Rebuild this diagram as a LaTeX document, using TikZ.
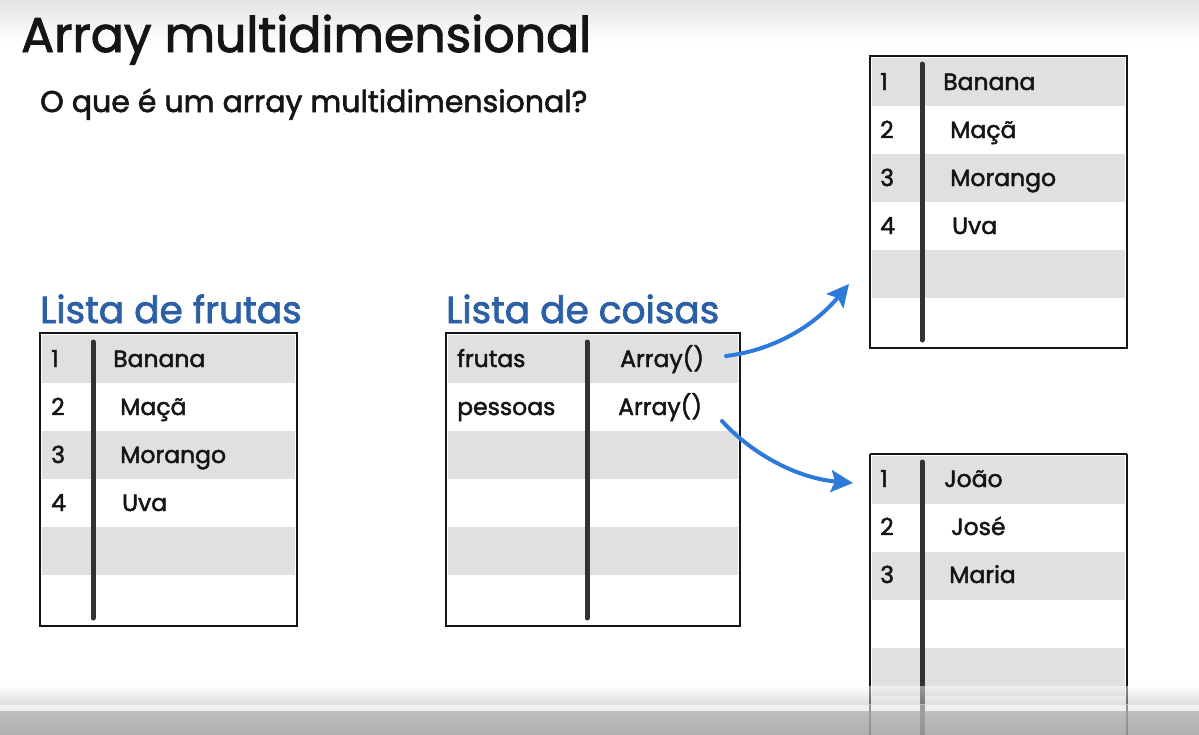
\documentclass[tikz,border=0pt]{standalone}
\usepackage{fontspec}
\setmainfont{Poppins}[RawFeature={embolden=2}]
\usetikzlibrary{arrows.meta}

\definecolor{rowgray}{HTML}{E0E0E0}
\definecolor{ink}{HTML}{151515}
\definecolor{labelblue}{HTML}{2B5FA6}
\definecolor{arrowblue}{HTML}{2E7AD9}
\definecolor{rulegray}{HTML}{333333}

\tikzset{
  cell/.style={anchor=base west, inner sep=0pt, text=ink, font=\fontsize{23.5}{27}\selectfont},
  heading/.style={anchor=base west, inner sep=0pt, text=labelblue, font=\fontsize{37.5}{42}\selectfont},
  frame/.style={draw=ink, line width=2.8pt},
  colrule/.style={draw=rulegray, line width=5pt, line cap=round},
  pointer/.style={draw=arrowblue, line width=4pt, line cap=round,
    -{Stealth[length=22pt, width=22pt, inset=4pt]}},
}

% striped list body: left, top, right, first row top, number of rows
\newcommand{\stripes}[5]{%
  \foreach \r in {1,...,#5}{%
    \pgfmathsetmacro{\ya}{#4+48*(\r-1)}%
    \pgfmathsetmacro{\yb}{\ya+48}%
    \pgfmathparse{mod(\r,2)==1 ? "rowgray" : "white"}%
    \fill[\pgfmathresult] (#1+2,\ya) rectangle (#3-2,\yb);
  }%
}

\begin{document}
\begin{tikzpicture}[x=1pt, y=-1pt]
\useasboundingbox (0,0) rectangle (1199,734);
\fill[white] (0,0) rectangle (1199,734);
\shade[top color=black!11, bottom color=white] (0,0) rectangle (1199,42);

% titles
\node[anchor=base west, inner sep=0pt, text=ink, font=\fontsize{49}{55}\selectfont] (title) at (21,52) {Array multidimensional};
\node[anchor=base west, inner sep=0pt, text=ink, font=\fontsize{30}{34}\selectfont] (question) at (40,112) {O que é um array multidimensional?};

% ---- Lista de frutas ----
\node[heading] (hfrutas) at (40,323) {Lista de frutas};
\stripes{40}{333}{297}{335}{6}
\draw[frame] (40,333) rectangle (297,626);
\draw[colrule] (93,342) -- (93,618);
\node[cell] (f1n) at (51,367) {1};
\node[cell] (f1v) at (113,367) {Banana};
\node[cell] (f2n) at (51,415) {2};
\node[cell] (f2v) at (120,415) {Maçã};
\node[cell] (f3n) at (51,463) {3};
\node[cell] (f3v) at (120,463) {Morango};
\node[cell] (f4n) at (51,511) {4};
\node[cell] (f4v) at (122,511) {Uva};

% ---- Lista de coisas ----
\node[heading] (hcoisas) at (446,323) {Lista de coisas};
\stripes{446}{333}{740}{335}{6}
\draw[frame] (446,333) rectangle (740,626);
\draw[colrule] (587,342) -- (587,618);
\node[cell] (c1k) at (457,367) {frutas};
\node[cell] (c1v) at (620,367) {Array()};
\node[cell] (c2k) at (457,415) {pessoas};
\node[cell] (c2v) at (618,415) {Array()};

% ---- fruit array ----
\stripes{870}{56}{1127}{58}{6}
\draw[frame] (870,56) rectangle (1127,348);
\draw[colrule] (922,64) -- (922,340);
\node[cell] (t1n) at (880,90) {1};
\node[cell] (t1v) at (943,90) {Banana};
\node[cell] (t2n) at (880,138) {2};
\node[cell] (t2v) at (950,138) {Maçã};
\node[cell] (t3n) at (880,186) {3};
\node[cell] (t3v) at (950,186) {Morango};
\node[cell] (t4n) at (880,234) {4};
\node[cell] (t4v) at (952,234) {Uva};

% ---- people array ----
\stripes{870}{454}{1127}{456}{6}
\draw[frame] (870,454) -- (1127,454);
\draw[frame] (870,454) -- (870,750);
\draw[frame] (1127,454) -- (1127,750);
\draw[colrule] (922,462) -- (922,750);
\node[cell] (p1n) at (880,487) {1};
\node[cell] (p1v) at (944,487) {João};
\node[cell] (p2n) at (880,535) {2};
\node[cell] (p2v) at (951,535) {José};
\node[cell] (p3n) at (880,583) {3};
\node[cell] (p3v) at (949,583) {Maria};

% ---- pointers ----
\coordinate (from1) at (726,356);
\coordinate (to1) at (849,284);
\coordinate (from2) at (722,421);
\coordinate (to2) at (853,483);
\draw[pointer] (from1) .. controls (775,350) and (815,325) .. (to1);
\draw[pointer] (from2) .. controls (750,452) and (795,478) .. (to2);

% player bar along the bottom edge
\shade[top color=white, bottom color=black!25, opacity=0.5] (0,686) rectangle (1199,704);
\fill[black!10, opacity=0.6] (0,704) rectangle (1199,711);
\shade[top color=black!30, bottom color=black!36, opacity=0.85] (0,711) rectangle (1199,734);
\end{tikzpicture}
\end{document}
